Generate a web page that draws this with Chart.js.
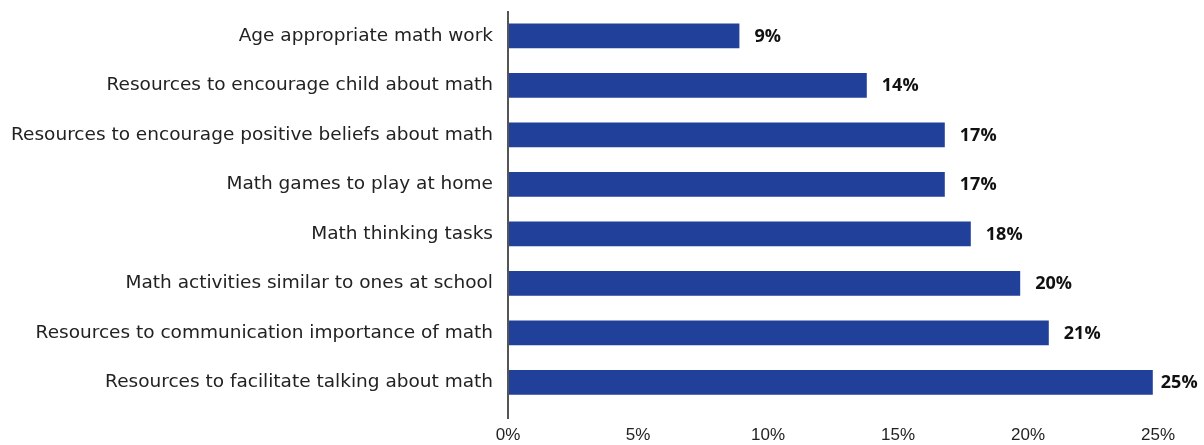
<!DOCTYPE html>
<html>
<head>
<meta charset="utf-8">
<script src="https://cdn.jsdelivr.net/npm/chart.js@4/dist/chart.umd.min.js"></script>
<style>
  html, body { margin: 0; padding: 0; background: #fff; }
  #wrap { width: 1204px; height: 445px; position: relative; }
</style>
</head>
<body>
<div id="wrap"><canvas id="c" width="1204" height="445"></canvas></div>
<script>
const categories = [
  "Age appropriate math work",
  "Resources to encourage child about math",
  "Resources to encourage positive beliefs about math",
  "Math games to play at home",
  "Math thinking tasks",
  "Math activities similar to ones at school",
  "Resources to communication importance of math",
  "Resources to facilitate talking about math"
];
const values = [8.9, 13.8, 16.8, 16.8, 17.8, 19.7, 20.8, 24.8];
const valueLabels = ["9%", "14%", "17%", "17%", "18%", "20%", "21%", "25%"];
const xMin = 0, xMax = 25, xStep = 5;

const LABEL_FONT = "'DejaVu Sans', sans-serif";
const TICK_FONT = "'Liberation Sans', Arial, sans-serif";
const VALUE_FONT = "'Open Sans', sans-serif";

const valueLabelPlugin = {
  id: 'valueLabels',
  afterDatasetsDraw(chart) {
    const ctx = chart.ctx;
    const meta = chart.getDatasetMeta(0);
    ctx.save();
    ctx.font = "bold 18px " + VALUE_FONT;
    ctx.fillStyle = "#111";
    ctx.textAlign = "left";
    ctx.textBaseline = "middle";
    meta.data.forEach((bar, i) => {
      const gap = bar.x > 1140 ? 8 : 15;
      ctx.fillText(valueLabels[i], bar.x + gap, bar.y + 1);
    });
    ctx.restore();
  }
};

new Chart(document.getElementById('c'), {
  type: 'bar',
  data: {
    labels: categories,
    datasets: [{
      data: values,
      backgroundColor: '#21409a',
      borderWidth: 0,
      barPercentage: 0.5,
      categoryPercentage: 1.0
    }]
  },
  options: {
    indexAxis: 'y',
    responsive: false,
    animation: false,
    devicePixelRatio: 1,
    layout: { padding: { top: 11, right: 46, left: 0, bottom: 0 } },
    plugins: { legend: { display: false }, tooltip: { enabled: false } },
    scales: {
      x: {
        min: xMin, max: xMax,
        afterFit: s => { s.height = 38; s.paddingTop = 0; s.paddingBottom = 0; },
        ticks: {
          stepSize: xStep,
          callback: v => v + '%',
          color: '#222',
          font: { family: TICK_FONT, size: 17 },
          padding: 6,
          maxRotation: 0
        },
        grid: {
          drawOnChartArea: true,
          drawTicks: true,
          tickLength: 12,
          lineWidth: 2,
          color: c => (c.tick && c.tick.value === 0) ? '#555' : 'rgba(0,0,0,0)'
        },
        border: { display: false }
      },
      y: {
        afterFit: s => { s.width = 508; s.paddingTop = 0; s.paddingBottom = 0; },
        ticks: {
          color: '#222',
          font: { family: LABEL_FONT, size: 18.5 },
          padding: 15
        },
        grid: { display: false, drawTicks: false },
        border: { display: false }
      }
    }
  },
  plugins: [valueLabelPlugin]
});
</script>
</body>
</html>
